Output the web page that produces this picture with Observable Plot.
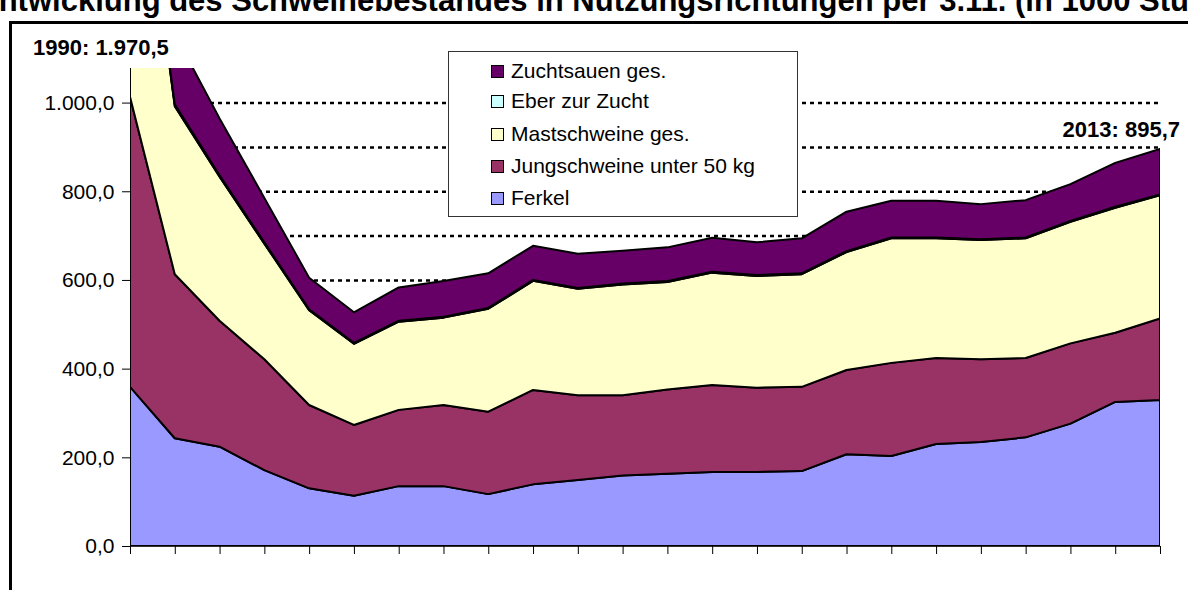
<!DOCTYPE html>
<html>
<head>
<meta charset="utf-8">
<script src="https://cdn.jsdelivr.net/npm/d3@7"></script>
<script src="https://cdn.jsdelivr.net/npm/@observablehq/plot@0.6"></script>
<style>
html, body { margin: 0; padding: 0; width: 1188px; height: 590px; overflow: hidden; background: #fff; }
#wrap { position: relative; width: 1188px; height: 590px; overflow: hidden; font-family: "Liberation Sans", Arial, sans-serif; }
#chart { position: absolute; left: 0; top: 0; }
#frame { position: absolute; left: 9px; top: 21px; width: 1400px; height: 800px; border-left: 3px solid #000; border-top: 3px solid #000; pointer-events: none; }
#title { position: absolute; left: -22px; top: -16px; width: 1400px; white-space: nowrap; font-weight: bold; font-size: 31px; line-height: 1.1; color: #000; }
.anno { position: absolute; font-weight: bold; font-size: 22px; color: #000; white-space: nowrap; line-height: 1; }
#legend { position: absolute; left: 448px; top: 51px; width: 348px; height: 164px; border: 1px solid #333; background: #fff; }
.lrow { position: absolute; left: 42px; height: 24px; display: flex; align-items: center; font-size: 21px; color: #000; white-space: nowrap; }
.sw { width: 11px; height: 11px; border: 1px solid #000; margin-right: 7px; }
</style>
</head>
<body>
<div id="wrap">
  <div id="chart"></div>
  <div id="title"></div>
  <div id="frame"></div>
  <div id="legend"></div>
  <div id="a1990" class="anno"></div>
  <div id="a2013" class="anno"></div>
</div>
<script>
// ---- data (in 1000 Stück) ----
const years = [1990, 1991, 1992, 1993, 1994, 1995, 1996, 1997, 1998, 1999, 2000, 2001,
               2002, 2003, 2004, 2005, 2006, 2007, 2008, 2009, 2010, 2011, 2012, 2013];
const ferkel       = [359, 243, 224, 171, 130, 113.5, 135, 135, 117, 139, 149, 159,
                      163, 167, 167, 169, 207, 203, 230, 234.5, 245, 276, 325, 329];
const jungschweine = [654, 370, 284, 250, 188, 159.5, 172, 183, 186, 213, 191, 181,
                      190, 196, 190, 190, 190, 210, 194, 186.5, 179, 181, 156, 184];
const mastschweine = [742, 379, 325, 261, 214, 183, 199, 197, 232, 246, 240, 250,
                      242.5, 253.5, 252, 254, 266, 281, 270, 269, 270, 274, 282, 278];
const eber         = [5, 4, 3, 3, 2, 2, 2, 2, 2, 2, 2, 2,
                      2, 2, 2, 2, 2, 2, 2, 2, 2, 2, 2, 2];
const zuchtsauen   = [210.5, 159, 128, 100, 71, 69, 75, 80.5, 78, 77, 77, 74,
                      76, 76.5, 74, 79, 89, 82.5, 82.5, 79, 84, 83, 99, 102.7];

const seriesNames  = ["Ferkel", "Jungschweine unter 50 kg", "Mastschweine ges.", "Eber zur Zucht", "Zuchtsauen ges."];
const seriesValues = [ferkel, jungschweine, mastschweine, eber, zuchtsauen];
const seriesColors = ["#9999FF", "#993366", "#FFFFCC", "#CCFFFF", "#660066"];
const yTicks = [0, 200, 400, 600, 800, 1000];
const gridValues = [100, 200, 300, 400, 500, 600, 700, 800, 900, 1000];
const titleText = "Entwicklung des Schweinebestandes in Nutzungsrichtungen per 3.11. (in 1000 Stück)";

// ---- build table ----
const table = [];
seriesNames.forEach((name, si) => {
  years.forEach((yr, i) => table.push({ year: yr, series: name, value: seriesValues[si][i] }));
});
const totals = years.map((_, i) => seriesValues.reduce((s, arr) => s + arr[i], 0));

const de = d3.formatLocale({ decimal: ",", thousands: ".", grouping: [3], currency: ["", "€"] });
const fmt1 = de.format(",.1f");

const plot = Plot.plot({
  width: 1188,
  height: 590,
  marginLeft: 130,
  marginRight: 28,
  marginTop: 68,
  marginBottom: 44,
  style: { background: "transparent", fontFamily: "'Liberation Sans', Arial, sans-serif", fontSize: "21px", color: "#000" },
  x: { type: "linear", domain: [years[0], years[years.length - 1]] },
  y: { domain: [0, 1078] },
  color: { domain: seriesNames, range: seriesColors },
  marks: [
    Plot.ruleY(gridValues, { stroke: "#000", strokeWidth: 2.5, strokeDasharray: "4,4" }),
    Plot.areaY(table, {
      x: "year", y: "value", z: "series", fill: "series",
      stroke: "#000", strokeWidth: 2, strokeLinejoin: "round", clip: true
    }),
    Plot.ruleX([years[0]], { stroke: "#000", strokeWidth: 1 }),
    Plot.ruleY([0], { stroke: "#333", strokeWidth: 1 }),
    Plot.axisY({ ticks: yTicks, tickFormat: fmt1, tickSize: 8, tickPadding: 8, label: null, stroke: "#000", fontSize: 21 }),
    Plot.axisX({ ticks: years, tickFormat: () => "", tickSize: 8, label: null, stroke: "#000" })
  ]
});
document.getElementById("chart").appendChild(plot);

// ---- title (cut off at the top as in the source) ----
document.getElementById("title").textContent = titleText;

// ---- annotations ----
const a1 = document.getElementById("a1990");
a1.textContent = years[0] + ": " + fmt1(totals[0]);
a1.style.left = "33px"; a1.style.top = "37px";
const a2 = document.getElementById("a2013");
a2.textContent = years[years.length - 1] + ": " + fmt1(totals[totals.length - 1]);
a2.style.right = "8px"; a2.style.top = "119px";

// ---- legend ----
const legend = document.getElementById("legend");
const order = [4, 3, 2, 1, 0];
const rowTops = [7, 37, 70, 102, 134];
order.forEach((si, k) => {
  const row = document.createElement("div");
  row.className = "lrow";
  row.style.top = rowTops[k] + "px";
  const sw = document.createElement("div");
  sw.className = "sw";
  sw.style.background = seriesColors[si];
  const lab = document.createElement("span");
  lab.textContent = seriesNames[si];
  row.appendChild(sw);
  row.appendChild(lab);
  legend.appendChild(row);
});
</script>
</body>
</html>
